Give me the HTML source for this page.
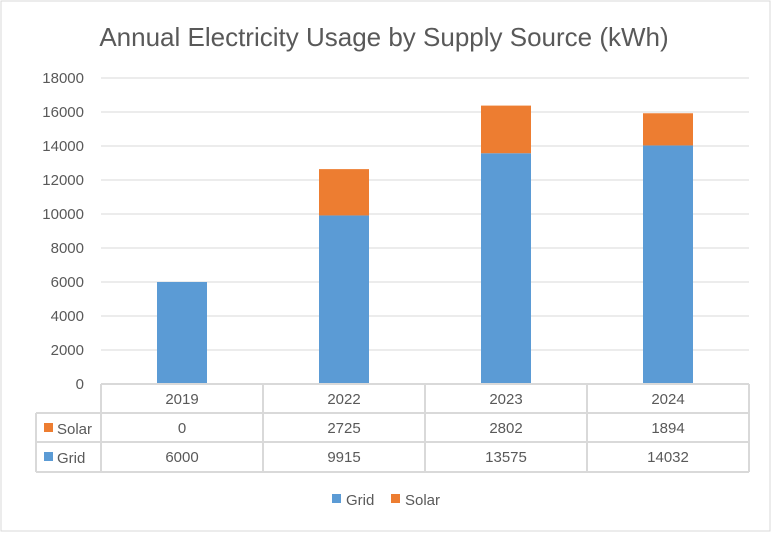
<!DOCTYPE html>
<html><head><meta charset="utf-8"><style>
body{margin:0;background:#fff}
svg text{font-family:"Liberation Sans",sans-serif;fill:#595959}
</style></head><body>
<svg id="c" width="771" height="532" xmlns="http://www.w3.org/2000/svg">
<rect x="1" y="1" width="769" height="530" fill="#fff" stroke="#D9D9D9"/>
<text x="384" y="46" text-anchor="middle" font-size="26">Annual Electricity Usage by Supply Source (kWh)</text>
<g id="grid"></g><g id="bars"></g><g id="table"></g>
<g>
<rect x="332" y="494" width="9" height="9" fill="#5B9BD5"/>
<text x="346" y="505" font-size="15">Grid</text>
<rect x="391" y="494" width="9" height="9" fill="#ED7D31"/>
<text x="405" y="505" font-size="15">Solar</text>
</g>
</svg>
<script>
const categories=["2019","2022","2023","2024"];
const grid=[6000,9915,13575,14032];
const solar=[0,2725,2802,1894];
const ticks=[0,2000,4000,6000,8000,10000,12000,14000,16000,18000];
const NS="http://www.w3.org/2000/svg";
const x0=101,colW=162,y0=384,yMax=18000,yTop=78;
const y=v=>y0-(v/yMax)*(y0-yTop);
const cx=i=>x0+colW*(i+0.5);
function mk(tag,attrs,parent,txt){const e=document.createElementNS(NS,tag);for(const k in attrs)e.setAttribute(k,attrs[k]);if(txt!==undefined)e.textContent=txt;document.getElementById(parent).appendChild(e);return e;}
ticks.forEach(t=>{
 const l=mk("line",{x1:x0,x2:x0+colW*categories.length,y1:y(t),y2:y(t),stroke:"#D9D9D9"},"grid");
 
 
 const tx=mk("text",{x:84,y:y(t)+5,"text-anchor":"end","font-size":"15"},"grid",t);
 
 
});
categories.forEach((c,i)=>{
 const bw=50,bx=cx(i)-bw/2;
 const g=mk("rect",{x:bx,y:y(grid[i]),width:bw,height:y0-y(grid[i]),fill:"#5B9BD5"},"bars");
 
 
 const s=mk("rect",{x:bx,y:y(grid[i]+solar[i]),width:bw,height:y(grid[i])-y(grid[i]+solar[i]),fill:"#ED7D31"},"bars");
 
 
});
const xr=x0+colW*categories.length;
const hl=(x1,x2,yy)=>{const l=mk("line",{x1:x1,x2:x2,y1:yy,y2:yy,stroke:"#D9D9D9","stroke-width":2},"table");};
const vl=(xx,y1,y2)=>{const l=mk("line",{x1:xx,x2:xx,y1:y1,y2:y2,stroke:"#D9D9D9","stroke-width":2},"table");};
hl(x0,xr,384);hl(36,xr,413);hl(36,xr,442);hl(36,xr,472);
vl(36,413,472);
for(let i=0;i<=categories.length;i++)vl(x0+colW*i,384,472);
categories.forEach((c,i)=>{
 const a=mk("text",{x:cx(i),y:404,"text-anchor":"middle","font-size":"15"},"table",c);
 
 
 const b=mk("text",{x:cx(i),y:433,"text-anchor":"middle","font-size":"15"},"table",solar[i]);
 
 
 const d=mk("text",{x:cx(i),y:462,"text-anchor":"middle","font-size":"15"},"table",grid[i]);
 
 
});
[["Solar","#ED7D31",413],["Grid","#5B9BD5",442]].forEach(r=>{
 const sq=mk("rect",{x:44,y:r[2]+10,width:9,height:9,fill:r[1]},"table");
 
 
 const t=mk("text",{x:57,y:r[2]+21,"font-size":"15"},"table",r[0]);
 
 
});
</script>
</body></html>
